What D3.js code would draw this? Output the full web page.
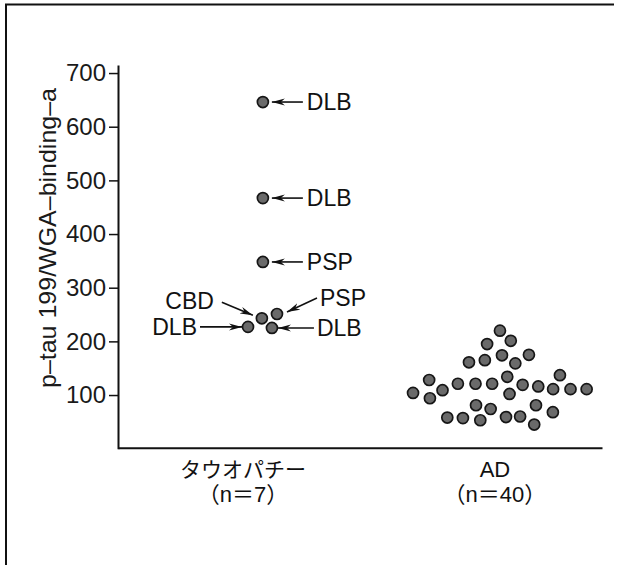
<!DOCTYPE html>
<html lang="ja">
<head>
<meta charset="utf-8">
<script src="https://cdn.jsdelivr.net/npm/d3@7/dist/d3.min.js"></script>
<style>
  html, body { margin: 0; padding: 0; background: #fff; }
  svg { display: block; }
</style>
</head>
<body>
<svg id="chart" width="618" height="565" lang="ja"></svg>
<script>
// ---- data ----
const categories = ["タウオパチー", "AD"];
const categoryN = ["（n＝7）", "（n＝40）"];
const yTicks = [100, 200, 300, 400, 500, 600, 700];
const yLabel = "p–tau 199/WGA–binding–a";

// tauopathy group (category position 1), x in category units
const tauValues = [646, 467, 348, 243, 251, 227, 225];
const tauX      = [1.079, 1.079, 1.079, 1.075, 1.135, 1.020, 1.115];
const tauLabels = ["DLB", "DLB", "PSP", "CBD", "PSP", "DLB", "DLB"];

// AD group (category position 2)
const adValues = [220, 195, 201, 161, 165, 174, 159, 175,
                  128, 121, 121, 121, 134, 119, 116, 137,
                  104, 109, 94, 102, 111, 111, 111,
                  81, 74, 81, 68,
                  58, 57, 53, 59, 60, 45];
const adX = [2.020, 1.969, 2.063, 1.897, 1.960, 2.028, 2.081, 2.135,
             1.739, 1.853, 1.923, 1.989, 2.049, 2.110, 2.172, 2.258,
             1.675, 1.792, 1.742, 2.058, 2.231, 2.300, 2.364,
             1.925, 1.983, 2.163, 2.230,
             1.811, 1.873, 1.942, 2.044, 2.100, 2.156];

// ---- layout ----
const svg = d3.select("#chart");
const latin = "'Liberation Sans', Arial, Helvetica, sans-serif";
const mixed = "'Liberation Sans', 'Noto Sans CJK JP', sans-serif";

const x = d3.scaleLinear().domain([0.504, 2.425]).range([118, 602]);
const y = d3.scaleLinear().domain([0, 715]).range([448.7, 65]);

// frame (left and top border)
svg.append("path")
  .attr("d", "M6,565 V4.5 H614")
  .attr("fill", "none").attr("stroke", "#111").attr("stroke-width", 2);

// y axis
const gy = svg.append("g").attr("transform", "translate(118,0)")
  .call(d3.axisLeft(y).tickValues(yTicks).tickSize(9).tickSizeOuter(0).tickPadding(3));
gy.select(".domain").attr("stroke", "#111").attr("stroke-width", 2);
gy.selectAll(".tick line").attr("stroke", "#111").attr("stroke-width", 1.5);
gy.selectAll(".tick text")
  .attr("font-family", latin).attr("font-size", 24).attr("fill", "#1a1a1a");

// x axis
const gx = svg.append("g").attr("transform", `translate(0,${y(0) - 1})`)
  .call(d3.axisBottom(x).tickValues([]).tickSizeOuter(0));
gx.select(".domain").attr("stroke", "#111").attr("stroke-width", 2);

// category labels (two lines)
categories.forEach((c, i) => {
  svg.append("text")
    .attr("x", x(i + 1)).attr("y", 477)
    .attr("text-anchor", "middle")
    .attr("font-family", mixed)
    .attr("font-size", i === 0 ? 21 : 22)
    .attr("fill", "#111")
    .text(c);
  svg.append("text")
    .attr("x", x(i + 1)).attr("y", 502)
    .attr("text-anchor", "middle")
    .attr("font-family", mixed)
    .attr("font-size", 22)
    .attr("fill", "#111")
    .text(categoryN[i]);
});

// y label (anchored at its start, bottom of the rotated text)
svg.append("text")
  .attr("transform", `translate(56,${388}) rotate(-90)`)
  .attr("text-anchor", "start")
  .attr("textLength", 300).attr("lengthAdjust", "spacingAndGlyphs")
  .attr("font-family", latin).attr("font-size", 24).attr("fill", "#1a1a1a")
  .text(yLabel);

// arrow marker
const defs = svg.append("defs");
defs.append("marker")
  .attr("id", "arr").attr("markerUnits", "userSpaceOnUse")
  .attr("markerWidth", 14).attr("markerHeight", 8)
  .attr("refX", 13).attr("refY", 4).attr("orient", "auto")
  .append("path").attr("d", "M0,0.5 L13,4 L0,7.5 L4,4 Z").attr("fill", "#111");

// dots
const r = 5.5;
const dotStyle = sel => sel.attr("r", r).attr("fill", "#6a6a6a")
  .attr("stroke", "#161616").attr("stroke-width", 1.7);

svg.append("g").selectAll("circle").data(adValues).join("circle")
  .attr("cx", (d, i) => x(adX[i])).attr("cy", d => y(d)).call(dotStyle);

svg.append("g").selectAll("circle").data(tauValues).join("circle")
  .attr("cx", (d, i) => x(tauX[i])).attr("cy", d => y(d)).call(dotStyle);

// annotation layout (pixel offsets relative to the target dot)
// [arrow start dx, dy, arrow end dx, dy, text dx, dy, anchor]
const annLayout = [
  [40, 0, 9, 0, 44, 0, "start"],
  [40, 0, 9, 0, 44, 0, "start"],
  [40, 0, 9, 0, 44, 0, "start"],
  [-40, -16, -9, -3, -48, -18, "end"],
  [40, -16, 10, -2, 43, -16, "start"],
  [-48, 0, -6, 0, -51, 0, "end"],
  [42, 0, 6, 0, 45, 0, "start"]
];
const ann = svg.append("g");
tauValues.forEach((v, i) => {
  const cx = x(tauX[i]), cy = y(v);
  const L = annLayout[i];
  ann.append("line")
    .attr("x1", cx + L[0]).attr("y1", cy + L[1])
    .attr("x2", cx + L[2]).attr("y2", cy + L[3])
    .attr("stroke", "#111").attr("stroke-width", 1.6)
    .attr("marker-end", "url(#arr)");
  ann.append("text")
    .attr("x", cx + L[4]).attr("y", cy + L[5])
    .attr("dy", "0.36em")
    .attr("text-anchor", L[6])
    .attr("font-family", latin).attr("font-size", 23).attr("fill", "#111")
    .text(tauLabels[i]);
});
</script>
</body>
</html>
